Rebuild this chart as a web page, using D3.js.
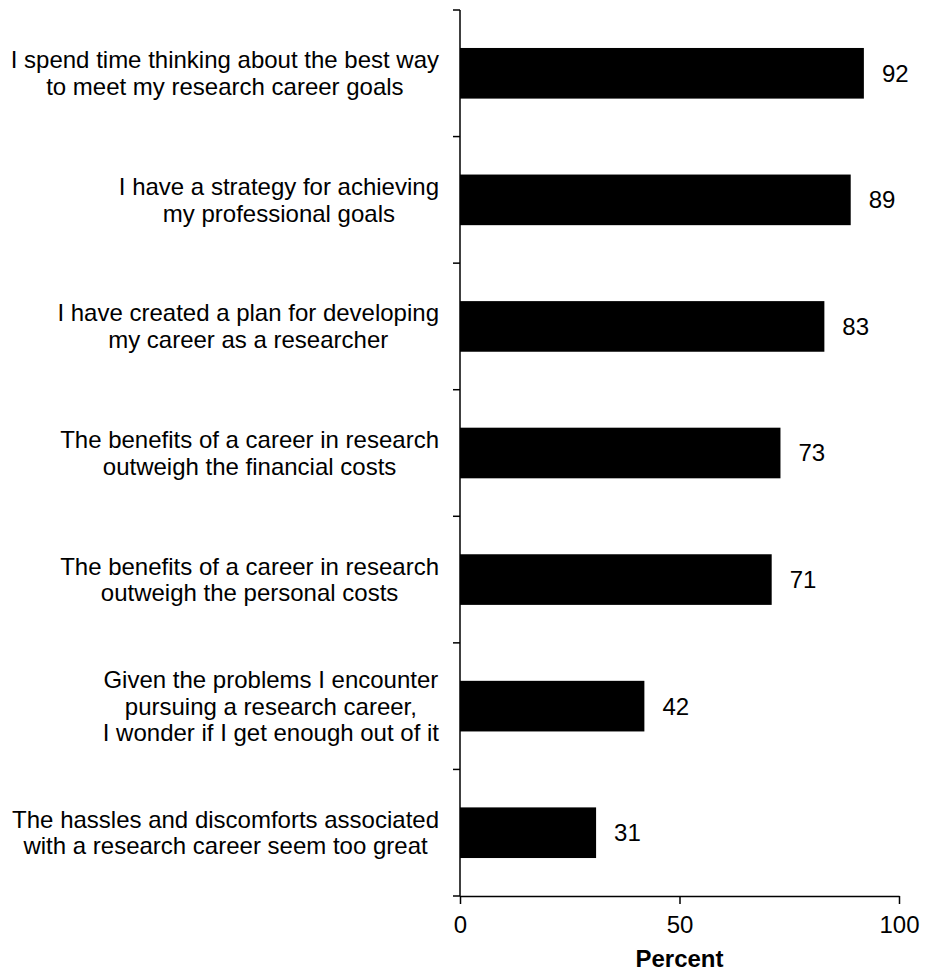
<!DOCTYPE html>
<html lang="en">
<head>
    <meta charset="UTF-8">
    <title>Research career attitudes</title>
    <script src="https://cdn.jsdelivr.net/npm/d3@7/dist/d3.min.js"></script>
    <style>
        body {
            margin: 0;
            background: #fff;
        }

        svg text {
            font-family: "Liberation Sans", Arial, sans-serif;
            fill: #000;
        }

        .bar {
            fill: #000;
        }
    </style>
</head>
<body>

<div id="chartArea"></div>

<script>
    'use strict';

    // Each statement is split into the lines it is shown on.
    const statements = [
        ['I spend time thinking about the best way', 'to meet my research career goals'],
        ['I have a strategy for achieving', 'my professional goals'],
        ['I have created a plan for developing', 'my career as a researcher'],
        ['The benefits of a career in research', 'outweigh the financial costs'],
        ['The benefits of a career in research', 'outweigh the personal costs'],
        ['Given the problems I encounter', 'pursuing a research career,', 'I wonder if I get enough out of it'],
        ['The hassles and discomforts associated', 'with a research career seem too great']
    ];
    const percents = [92, 89, 83, 73, 71, 42, 31];
    const xTicks = [0, 50, 100];
    const xTitle = 'Percent';

    const width = 928;
    const height = 973;
    const fontSize = 24;
    const lineHeight = 26.7;

    const svg = d3.select('#chartArea').append('svg')
        .attr('width', width)
        .attr('height', height);

    const keys = statements.map(function(d, i) { return i; });

    const x = d3.scaleLinear().domain([0, 100]).range([460, 899]);
    const y = d3.scaleBand().domain(keys).range([10, 896])
        .paddingInner(0.6).paddingOuter(0.3);

    // Bars
    svg.selectAll('rect.bar').data(percents).enter().append('rect')
        .classed('bar', true)
        .attr('x', x(0))
        .attr('y', function(d, i) { return y(i); })
        .attr('width', function(d) { return x(d) - x(0); })
        .attr('height', y.bandwidth());

    // Value labels
    svg.selectAll('text.value').data(percents).enter().append('text')
        .attr('class', 'value')
        .attr('x', function(d) { return x(d) + 18; })
        .attr('y', function(d, i) { return y(i) + y.bandwidth() / 2; })
        .attr('dy', '0.35em')
        .style('font-size', fontSize + 'px')
        .text(function(d) { return d; });

    // Y axis line with ticks between the categories
    const bounds = keys.map(function(i) { return y(i) - y.step() * y.paddingInner() / 2; });
    bounds.push(y.range()[1]);

    svg.append('line')
        .attr('x1', x(0)).attr('x2', x(0))
        .attr('y1', y.range()[0]).attr('y2', y.range()[1])
        .attr('stroke', '#000').attr('stroke-width', 1.5);

    svg.selectAll('line.ytick').data(bounds).enter().append('line')
        .attr('class', 'ytick')
        .attr('x1', x(0) - 7).attr('x2', x(0))
        .attr('y1', function(d) { return d; })
        .attr('y2', function(d) { return d; })
        .attr('stroke', '#000').attr('stroke-width', 1.5);

    // Category labels: lines centred on each other, block right-aligned
    const labelRight = 439;
    statements.forEach(function(lines, i) {
        const g = svg.append('g');
        const cy = y(i) + y.bandwidth() / 2;
        const first = cy - (lines.length - 1) * lineHeight / 2;
        const texts = g.selectAll('text').data(lines).enter().append('text')
            .attr('y', function(d, j) { return first + j * lineHeight; })
            .attr('dy', '0.35em')
            .attr('text-anchor', 'middle')
            .style('font-size', fontSize + 'px')
            .text(function(d) { return d; });
        let maxW = 0;
        texts.each(function() { maxW = Math.max(maxW, this.getComputedTextLength()); });
        texts.attr('x', labelRight - maxW / 2);
    });

    // X axis
    const xAxis = svg.append('g')
        .attr('transform', 'translate(0,' + y.range()[1] + ')')
        .call(d3.axisBottom(x).tickValues(xTicks).tickSize(8).tickSizeOuter(0).tickPadding(12));

    xAxis.select('.domain').attr('stroke-width', 1.5);
    xAxis.selectAll('.tick line').attr('stroke-width', 1.5);
    xAxis.selectAll('.tick text')
        .style('font-size', fontSize + 'px')
        .style('font-family', '"Liberation Sans", Arial, sans-serif');

    svg.append('text')
        .attr('x', (x(0) + x(100)) / 2)
        .attr('y', 967)
        .attr('text-anchor', 'middle')
        .style('font-size', fontSize + 'px')
        .style('font-weight', 'bold')
        .text(xTitle);
</script>

</body>
</html>
